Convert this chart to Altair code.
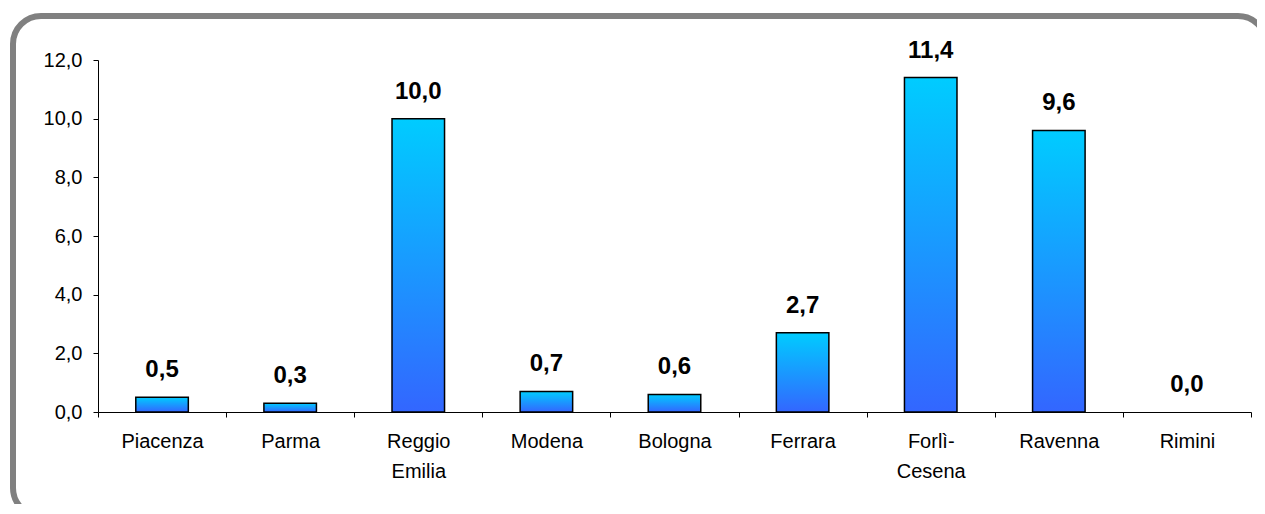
import altair as alt
import pandas as pd

categories = ["Piacenza", "Parma", "Reggio\nEmilia", "Modena", "Bologna",
              "Ferrara", "Forlì-\nCesena", "Ravenna", "Rimini"]
values = [0.5, 0.3, 10.0, 0.7, 0.6, 2.7, 11.4, 9.6, 0.0]
y_ticks = [0, 2, 4, 6, 8, 10, 12]

df = pd.DataFrame({"provincia": categories, "valore": values})

W, H = 1153, 352
FONT = "Liberation Sans"
COMMA = "replace(format({v}, '.1f'), '.', ',')"

x_enc = alt.X(
    "provincia:N", sort=categories, title=None,
    scale=alt.Scale(paddingInner=0, paddingOuter=0),
    axis=alt.Axis(
        labelAngle=0, labelExpr="split(datum.label, '\\n')", tickBand="extent",
        domainColor="black", tickColor="black", tickSize=5, labelFont=FONT,
        labelFontSize=20, labelColor="black", labelPadding=14, labelLineHeight=30,
        labelBaseline="top",
    ),
)
y_enc = alt.Y(
    "valore:Q", title=None,
    scale=alt.Scale(domain=[0, 12], nice=False),
    axis=alt.Axis(
        values=y_ticks, labelExpr=COMMA.format(v="datum.value"), grid=False,
        domainColor="black", tickColor="black", tickSize=5, labelFont=FONT,
        labelFontSize=20, labelColor="black", labelPadding=11,
    ),
)

frame = alt.Chart(pd.DataFrame({"k": [0]})).mark_rect(
    filled=False, stroke="#808080", strokeWidth=6, cornerRadius=28
).encode(
    x=alt.value(-85), x2=alt.value(1168), y=alt.value(-44), y2=alt.value(456)
)

gradient = alt.Gradient(
    gradient="linear", x1=0, x2=0, y1=0, y2=1,
    stops=[alt.GradientStop(color="#00CCFF", offset=0),
           alt.GradientStop(color="#3366FF", offset=1)],
)

bars = alt.Chart(df).mark_bar(
    width=alt.RelativeBandSize(0.41), fill=gradient, stroke="black", strokeWidth=1.5
).encode(
    x=x_enc, y=y_enc,
    strokeOpacity=alt.condition("datum.valore > 0", alt.value(1), alt.value(0)),
)

labels = alt.Chart(df).transform_calculate(
    label=COMMA.format(v="datum.valore")
).mark_text(
    font=FONT, fontSize=24, fontWeight="bold", baseline="alphabetic", dy=-20, color="black"
).encode(x=alt.X("provincia:N", sort=categories), y="valore:Q", text="label:N")

chart = alt.layer(frame, bars, labels).properties(
    width=W, height=H, autosize="none",
    padding={"left": 90, "top": 52, "right": 6, "bottom": 92},
).configure_view(stroke=None)

chart.save("out.html", embed_options={"renderer": "svg", "actions": False})
